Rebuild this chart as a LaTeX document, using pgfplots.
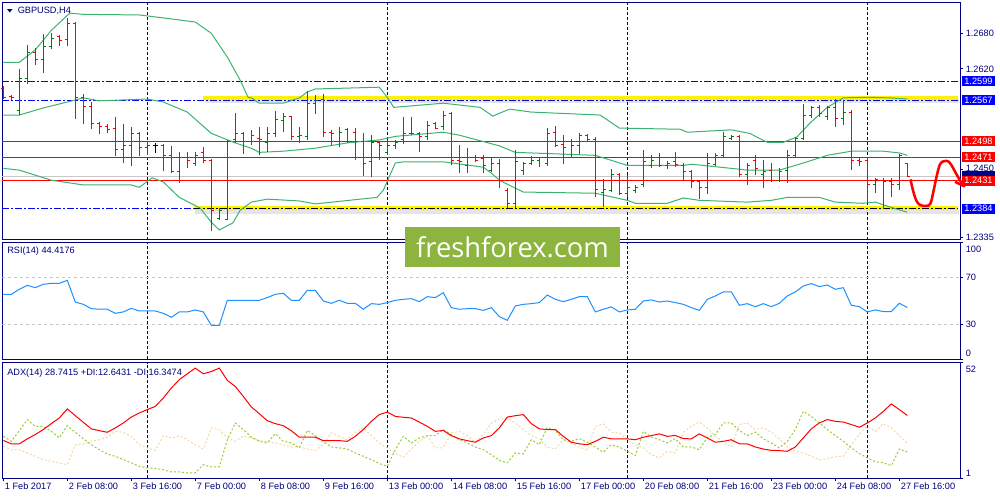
\documentclass[border=0pt]{standalone}
\usepackage{pgfplots}
\pgfplotsset{compat=1.18}
\usepackage{pgfplotstable}
\usepackage{fontspec}
\setmainfont{Liberation Sans}
\newfontfamily\wmfont{Open Sans}

\definecolor{mtnavy}{RGB}{0,0,128}
\definecolor{mtblue}{RGB}{0,0,255}
\definecolor{mtgreen}{RGB}{0,128,0}
\definecolor{mtred}{RGB}{255,0,0}
\definecolor{bbgreen}{RGB}{60,179,113}
\definecolor{rsiblue}{RGB}{30,144,255}
\definecolor{diplus}{RGB}{154,205,50}
\definecolor{diminus}{RGB}{245,215,170}
\definecolor{bidgray}{RGB}{200,200,200}
\definecolor{wmgreen}{RGB}{141,180,62}

\newcommand\mtfont{\fontsize{6.9}{8}\selectfont}

% open / close ticks of an OHLC bar
\pgfdeclareplotmark{otick}{\pgfpathmoveto{\pgfqpoint{-\pgfplotmarksize}{0pt}}\pgfpathlineto{\pgfqpoint{0pt}{0pt}}\pgfusepathqstroke}
\pgfdeclareplotmark{ctick}{\pgfpathmoveto{\pgfqpoint{0pt}{0pt}}\pgfpathlineto{\pgfqpoint{\pgfplotmarksize}{0pt}}\pgfusepathqstroke}

\tikzset{
  weekline/.style={mtnavy, line width=0.75pt, dash pattern=on 2.25pt off 1.5pt},
  mtdashdot/.style={dash pattern=on 5.25pt off 1.5pt on 1.5pt off 1.5pt},
}
\pgfplotsset{
  mtpanel/.style={scale only axis, width=718.3pt, xmin=-0.125, xmax=119.59,
    axis line style={mtnavy, line width=0.75pt}, xtick=\empty,
    ytick pos=right, tick align=outside, major tick length=2.25pt,
    tick style={mtnavy, line width=0.75pt}, yticklabels={,,,,,}},
  hilo/.style={draw=#1, line width=0.75pt, solid, mark=none, forget plot,
    quiver={u=0, v=\thisrow{h}-\thisrow{l}}},
  optick/.style={#1, draw=none, mark=otick, mark size=2pt, forget plot, mark options={draw=#1, line width=0.75pt, solid}},
  cltick/.style={#1, draw=none, mark=ctick, mark size=2pt, forget plot, mark options={draw=#1, line width=0.75pt, solid}},
}

% H4 bars: index, open, high, low, close
\pgfplotstableread{
i o h l c
2 1.2550 1.2620 1.2542 1.2603
3 1.2603 1.2660 1.2594 1.2647
5 1.2635 1.2679 1.2613 1.2657
6 1.2657 1.2680 1.2653 1.2672
8 1.2670 1.2706 1.2658 1.2697
15 1.2483 1.2527 1.2461 1.2490
16 1.2490 1.2522 1.2456 1.2511
18 1.2488 1.2498 1.2474 1.2490
22 1.2446 1.2479 1.2427 1.2471
24 1.2461 1.2479 1.2456 1.2474
27 1.2368 1.2385 1.2365 1.2381
28 1.2366 1.2500 1.2365 1.2498
29 1.2500 1.2545 1.2495 1.2511
31 1.2498 1.2517 1.2491 1.2508
33 1.2496 1.2522 1.2479 1.2510
34 1.2510 1.2549 1.2505 1.2535
35 1.2532 1.2545 1.2513 1.2540
37 1.2505 1.2522 1.2495 1.2508
38 1.2506 1.2582 1.2500 1.2562
39 1.2562 1.2576 1.2544 1.2567
42 1.2498 1.2522 1.2488 1.2513
46 1.2463 1.2508 1.2437 1.2495
48 1.2478 1.2500 1.2474 1.2491
49 1.2490 1.2500 1.2484 1.2496
50 1.2501 1.2539 1.2493 1.2510
51 1.2510 1.2539 1.2508 1.2511
53 1.2506 1.2532 1.2500 1.2525
55 1.2522 1.2549 1.2517 1.2542
58 1.2457 1.2486 1.2444 1.2471
61 1.2449 1.2471 1.2446 1.2461
64 1.2393 1.2483 1.2385 1.2463
65 1.2449 1.2463 1.2441 1.2461
66 1.2461 1.2473 1.2457 1.2466
67 1.2466 1.2471 1.2454 1.2471
68 1.2461 1.2520 1.2456 1.2511
71 1.2471 1.2501 1.2469 1.2490
72 1.2491 1.2511 1.2476 1.2508
75 1.2412 1.2434 1.2386 1.2417
76 1.2415 1.2451 1.2412 1.2442
78 1.2410 1.2441 1.2403 1.2420
79 1.2414 1.2424 1.2410 1.2420
80 1.2424 1.2483 1.2420 1.2463
81 1.2457 1.2474 1.2452 1.2466
83 1.2456 1.2464 1.2451 1.2461
88 1.2419 1.2478 1.2409 1.2461
89 1.2459 1.2478 1.2456 1.2474
90 1.2473 1.2513 1.2469 1.2505
91 1.2502 1.2508 1.2500 1.2505
93 1.2441 1.2461 1.2424 1.2456
95 1.2441 1.2466 1.2419 1.2447
97 1.2432 1.2452 1.2429 1.2447
98 1.2449 1.2483 1.2427 1.2474
99 1.2474 1.2505 1.2471 1.2503
100 1.2503 1.2560 1.2500 1.2542
101 1.2542 1.2557 1.2537 1.2554
103 1.2540 1.2557 1.2533 1.2555
105 1.2537 1.2567 1.2525 1.2547
109 1.2424 1.2436 1.2410 1.2434
112 1.2424 1.2476 1.2415 1.2474
}\upbars

\pgfplotstableread{
i o h l c
0 1.2587 1.2591 1.2569 1.2572
1 1.2574 1.2576 1.2567 1.2571
4 1.2648 1.2655 1.2626 1.2635
7 1.2674 1.2677 1.2658 1.2668
9 1.2697 1.2699 1.2535 1.2572
10 1.2572 1.2577 1.2527 1.2557
11 1.2557 1.2564 1.2518 1.2528
12 1.2528 1.2530 1.2510 1.2523
13 1.2523 1.2527 1.2511 1.2518
14 1.2520 1.2539 1.2473 1.2483
17 1.2511 1.2513 1.2473 1.2488
20 1.2490 1.2493 1.2447 1.2474
21 1.2474 1.2490 1.2444 1.2446
23 1.2471 1.2479 1.2452 1.2466
25 1.2478 1.2488 1.2461 1.2466
26 1.2466 1.2468 1.2346 1.2381
30 1.2511 1.2513 1.2476 1.2498
32 1.2503 1.2522 1.2474 1.2500
36 1.2539 1.2540 1.2500 1.2506
40 1.2569 1.2577 1.2505 1.2513
41 1.2513 1.2517 1.2491 1.2510
43 1.2517 1.2520 1.2495 1.2498
44 1.2513 1.2520 1.2466 1.2498
45 1.2498 1.2511 1.2439 1.2461
47 1.2495 1.2496 1.2466 1.2491
52 1.2511 1.2513 1.2479 1.2505
54 1.2528 1.2530 1.2518 1.2520
56 1.2545 1.2547 1.2457 1.2466
57 1.2466 1.2491 1.2444 1.2463
59 1.2471 1.2474 1.2463 1.2466
60 1.2469 1.2474 1.2444 1.2456
62 1.2461 1.2468 1.2419 1.2432
63 1.2415 1.2419 1.2385 1.2393
69 1.2513 1.2523 1.2488 1.2490
70 1.2493 1.2508 1.2459 1.2488
73 1.2508 1.2510 1.2496 1.2500
74 1.2500 1.2505 1.2403 1.2417
77 1.2442 1.2444 1.2407 1.2410
82 1.2471 1.2478 1.2454 1.2456
84 1.2463 1.2479 1.2454 1.2459
85 1.2457 1.2461 1.2432 1.2446
86 1.2446 1.2449 1.2419 1.2429
87 1.2429 1.2432 1.2400 1.2419
92 1.2505 1.2508 1.2437 1.2441
94 1.2466 1.2474 1.2441 1.2452
96 1.2449 1.2461 1.2429 1.2431
102 1.2554 1.2559 1.2539 1.2545
104 1.2554 1.2569 1.2522 1.2537
106 1.2547 1.2550 1.2449 1.2466
107 1.2466 1.2469 1.2456 1.2463
108 1.2466 1.2471 1.2393 1.2424
110 1.2432 1.2436 1.2383 1.2429
111 1.2429 1.2436 1.2403 1.2424
113 1.2461 1.2461 1.2437 1.2439
}\downbars

\pgfplotstableread{
i o h l c
19 1.2490 1.2495 1.2478 1.2490
}\dojibars

% RSI(14)
\pgfplotstableread{
i v
0 55.7
1 55.7
2 60
3 63.4
4 61.4
5 64.3
6 65.1
7 65.1
8 67.7
9 49.1
10 47.1
11 43.4
12 42.9
13 42.9
14 39.4
15 40.6
16 43.7
17 41.4
18 41.4
19 41.4
20 39.4
21 36
22 40.6
23 40.6
24 42.3
25 40.6
26 29.1
27 29.1
28 50.6
29 50.6
30 50.6
31 50.6
32 50.6
33 52.9
34 55.7
35 56.6
36 50.6
37 50.6
38 59.1
39 59.1
40 50
41 48
42 50.6
43 48
44 48
45 42.9
46 47.7
47 47.1
48 48.6
49 50.6
50 51.4
51 52
52 49.4
53 53.7
54 52.9
55 57.1
56 44.3
57 42.9
58 43.4
59 43.4
60 41.9
61 44.3
62 36.6
63 33.4
64 45.7
65 47.1
66 47.7
67 48.6
68 55.1
69 51.4
70 49.4
71 51.4
72 53.7
73 53.7
74 40.6
75 42.9
76 44.9
77 40.6
78 42.3
79 42.9
80 50
81 50.9
82 49.1
83 50
84 48.6
85 47.1
86 44.3
87 41.9
88 51.4
89 54.3
90 57.7
91 57.9
92 46.3
93 47.7
94 45.1
95 47.7
96 45.1
97 48
98 54.3
99 57.7
100 62.9
101 64.9
102 62.3
103 63.7
104 60
105 61.4
106 46.3
107 45.1
108 40.6
109 42.3
110 40.9
111 40.9
112 48
113 44.4
}\rsidata

% ADX(14), +DI, -DI
\pgfplotstableread{
i adx pdi mdi
0 17.7 19.5 15.1
1 16.2 17.3 13.6
2 16.2 22 13.6
3 18.4 26.9 12.2
4 20.3 23.9 10.7
5 22.5 23.9 9.2
6 25.1 21.7 8.5
7 27.6 18.8 7.8
8 31.6 24.2 7
9 28.6 21.3 15.8
10 25.7 18.5 16.2
11 22.8 15.8 17.3
12 22 13.6 18
13 21.3 11.7 19.1
14 23.2 10.7 21.7
15 25.4 9.2 21.3
16 28 7.8 19.5
17 29.8 6.3 15.8
18 31.3 5.6 14.4
19 32.7 5.3 13.3
20 36.4 4.8 19.8
21 40.8 3.8 18.8
22 44.5 3.8 19.8
23 47.1 3.4 18
24 49.6 3.4 15.8
25 47.1 7 13.9
26 48.1 6 23.2
27 49.6 6 22.5
28 44.2 18 18.8
29 41.5 25.4 17.3
30 37.1 22.5 19.8
31 32.5 19.2 18.8
32 29.5 17.3 17.6
33 26.4 16.6 17.3
34 25.1 20.7 16.6
35 24.2 17.3 15.8
36 22 16.6 14.8
37 19.1 14.4 14.8
38 19.1 22.1 13.9
39 19.1 19.8 13.3
40 17.6 17.3 15.8
41 17.6 14.8 21
42 17.6 14.4 19.5
43 17.3 13.9 18
44 19.5 12.2 21.3
45 22.5 10.7 23.2
46 26.1 9.2 19.8
47 29.1 7.5 16.6
48 30.2 6.3 14.4
49 28.3 13.6 11.9
50 27.9 19.5 10.3
51 27.6 16.6 13.9
52 25.8 18.8 17.3
53 23.9 19.8 19.8
54 21.7 19.8 14.4
55 22.1 22.5 14.4
56 19.8 20.3 21
57 18.4 18 21.7
58 17.6 16.6 19.8
59 16.9 14.8 16.9
60 18.8 13.6 20.3
61 19.8 11.4 25.4
62 23.2 8.9 27.2
63 28 7.8 27.6
64 28.6 12.2 25.4
65 29.1 11.7 22.5
66 25.1 18 19.8
67 22.8 15.8 18.4
68 22.5 23.5 14.8
69 22.5 22.1 13.9
70 19.5 18 18
71 16.9 17.3 16.6
72 16.2 18.5 14.8
73 15.8 16.9 13.3
74 17.3 14.8 23.9
75 19.1 12.5 25
76 18.4 15.8 21.3
77 18.4 14.8 21
78 18.4 12.9 18
79 18 11 15.8
80 19.1 21.7 14.4
81 19.8 19.2 11.4
82 20.6 18 10
83 19.5 16.6 12.9
84 19.9 18.5 12.2
85 18.5 14.8 21.3
86 18.4 14.8 23.9
87 20.6 13.6 25.8
88 18.8 19.1 23.2
89 16.9 20.3 19.5
90 17.3 25.4 16.9
91 18 25.4 14.8
92 16.2 22.1 24.7
93 16.2 19.8 25.4
94 14.8 21.4 22.5
95 13.9 18.4 23.2
96 13.3 16.6 21.3
97 13.2 14.4 18.4
98 12.9 17.3 14.8
99 14.8 22.5 12.9
100 18.8 30.5 12.2
101 22.8 28.3 10.7
102 25.4 25.4 9.2
103 26.9 22.5 9.5
104 26.1 19.8 10.7
105 25.8 17.3 10.7
106 24.7 14.4 15.8
107 23.5 11.9 20.3
108 25.4 10 23.9
109 27.6 8.3 21.7
110 30.5 7.8 25.1
111 33.8 6.6 23.2
112 31.3 13.9 19.8
113 28.7 12.6 16.4
}\adxdata

\begin{document}
\begin{tikzpicture}
\path[fill=white, use as bounding box] (0,0) rectangle (750pt,-375pt);

% ---------------- price panel ----------------
\begin{axis}[mtpanel, at={(1.725pt,-1.875pt)}, anchor=north west, height=178.1pt,
  ymin=1.23311, ymax=1.27320, clip=false,
  ytick={1.2335,1.2450,1.2620,1.2680}]
\pgfplotsinvokeforeach{18,48,78,108}{\draw[weekline] (axis cs:#1,1.23311) -- (axis cs:#1,1.27320);}
% highlighter shadows and strokes
\addplot[black, opacity=0.1, line width=2.5pt] coordinates {(25.2,1.25655) (119.4,1.25655)};
\addplot[black, opacity=0.1, line width=2.5pt] coordinates {(24.0,1.23785) (119.4,1.23785)};
\addplot[yellow, line width=3pt] coordinates {(24.96,1.25714) (119.3,1.25714)};
\addplot[yellow, line width=3pt] coordinates {(23.8,1.23845) (119.3,1.23845)};
% levels
\addplot[mtblue, line width=0.75pt, mtdashdot] coordinates {(-0.125,1.2599) (119.59,1.2599)};
\addplot[mtblue, line width=0.75pt, mtdashdot] coordinates {(-0.125,1.2567) (119.59,1.2567)};
\addplot[mtblue, line width=0.75pt, mtdashdot] coordinates {(-0.125,1.2384) (23.8,1.2384)};
\addplot[black, line width=0.75pt, mtdashdot] coordinates {(23.8,1.2384) (119.3,1.2384)};
\addplot[bidgray, line width=0.75pt] coordinates {(-0.125,1.2439) (119.59,1.2439)};
\addplot[mtred, line width=0.75pt] coordinates {(-0.125,1.2498) (119.59,1.2498)};
\addplot[mtred, line width=0.75pt] coordinates {(-0.125,1.2471) (119.59,1.2471)};
\addplot[mtred, line width=0.75pt] coordinates {(-0.125,1.2431) (119.59,1.2431)};
% Bollinger bands
\addplot[bbgreen, line width=0.75pt] coordinates {(0,1.2631)(2,1.2631)(4,1.2652)(6,1.2685)(8.3,1.2714)(10,1.2712)(17,1.2711)(20,1.2706)(24,1.2699)(26,1.2680)(28,1.2640)(29.6,1.2601)(30.6,1.2572)(31,1.2571)(32,1.2562)(35,1.2562)(37,1.2571)(38,1.2581)(39,1.2586)(47,1.2589)(48,1.2572)(48.8,1.2555)(55,1.2562)(59.6,1.2555)(61.2,1.2540)(62,1.2545)(63.3,1.2552)(66,1.2547)(74.6,1.2542)(77,1.2520)(84.6,1.2518)(85.5,1.2513)(91,1.2517)(93.3,1.2511)(95.5,1.2496)(97.5,1.2496)(99.2,1.2505)(100.8,1.2528)(103,1.2555)(105,1.2571)(108,1.2572)(110.8,1.2571)(113,1.2569)};
\addplot[bbgreen, line width=0.75pt] coordinates {(0,1.2542)(2,1.2542)(5,1.2554)(8,1.2564)(10,1.2571)(12,1.2566)(18,1.2569)(20,1.2564)(23,1.2547)(26,1.2511)(29,1.2495)(31,1.2486)(32,1.2479)(35,1.2481)(39,1.2486)(43,1.2495)(47,1.2500)(49,1.2506)(55,1.2513)(57,1.2508)(62,1.2490)(64,1.2479)(74,1.2474)(78,1.2457)(85,1.2457)(86,1.2459)(91,1.2452)(93,1.2449)(97,1.2449)(100,1.2461)(103,1.2474)(106,1.2481)(110,1.2481)(112,1.2478)(113,1.2474)};
\addplot[bbgreen, line width=0.75pt] coordinates {(0,1.2452)(2,1.2449)(6,1.2432)(10,1.2424)(16,1.2424)(17,1.2420)(18.6,1.2436)(20,1.2429)(22,1.2403)(24.6,1.2385)(26,1.2361)(27,1.2348)(28.7,1.2360)(29.6,1.2381)(31,1.2395)(33,1.2400)(37,1.2397)(39,1.2392)(46.7,1.2403)(47.5,1.2415)(49,1.2461)(50,1.2463)(55,1.2463)(60,1.2454)(61,1.2444)(62,1.2432)(65,1.2412)(74,1.2410)(78,1.2398)(79,1.2393)(83,1.2393)(85,1.2402)(87,1.2398)(93,1.2395)(96,1.2398)(98,1.2403)(102,1.2403)(104,1.2395)(107.5,1.2393)(109,1.2395)(111,1.2386)(113,1.2378)};
% OHLC bars
\addplot[hilo=mtgreen] table[x=i, y=l] {\upbars};
\addplot[optick=mtgreen] table[x=i, y=o] {\upbars};
\addplot[cltick=mtgreen] table[x=i, y=c] {\upbars};
\addplot[hilo=mtred] table[x=i, y=l] {\downbars};
\addplot[optick=mtred] table[x=i, y=o] {\downbars};
\addplot[cltick=mtred] table[x=i, y=c] {\downbars};
\addplot[hilo=black] table[x=i, y=l] {\dojibars};
\addplot[optick=black] table[x=i, y=o] {\dojibars};
\addplot[cltick=black] table[x=i, y=c] {\dojibars};
% hand-drawn forecast
\addplot[mtred, line width=1.9pt, smooth, tension=0.6] coordinates {(113.4,1.24333)(113.7,1.24153)(114.1,1.23984)(114.6,1.23900)(115.4,1.23888)(115.9,1.23928)(116.3,1.24153)(116.7,1.24406)(117.1,1.24592)(117.6,1.24642)(118.2,1.24631)(118.75,1.24519)(119.2,1.24406)(119.7,1.24293)(120.09,1.24220)};
\addplot[mtred, line width=1.9pt, line join=round] coordinates {(120.34,1.24479)(120.09,1.24220)(118.96,1.24293)};
\end{axis}

% ---------------- RSI panel ----------------
\begin{axis}[mtpanel, at={(1.725pt,-182.0pt)}, anchor=north west, height=87.45pt,
  ymin=0, ymax=100, ytick={0,30,70,100}]
\pgfplotsinvokeforeach{18,48,78,108}{\draw[weekline] (axis cs:#1,0) -- (axis cs:#1,100);}
\addplot[bidgray, line width=0.75pt, dash pattern=on 2.25pt off 2.25pt] coordinates {(-0.125,70) (119.59,70)};
\addplot[bidgray, line width=0.75pt, dash pattern=on 2.25pt off 2.25pt] coordinates {(-0.125,30) (119.59,30)};
\addplot[rsiblue, line width=0.75pt] table[x=i, y=v] {\rsidata};
\end{axis}

% ---------------- ADX panel ----------------
\begin{axis}[mtpanel, at={(1.725pt,-272.0pt)}, anchor=north west, height=86.7pt,
  ymin=1, ymax=52, ytick={1,52},
  xtick={0,8,...,112}, xtick pos=left,
  xticklabels={1 Feb 2017,2 Feb 08:00,3 Feb 16:00,7 Feb 00:00,8 Feb 08:00,9 Feb 16:00,13 Feb 00:00,14 Feb 08:00,15 Feb 16:00,17 Feb 00:00,20 Feb 08:00,21 Feb 16:00,23 Feb 00:00,24 Feb 08:00,27 Feb 16:00},
  xticklabel style={font=\mtfont, text=mtnavy, anchor=north west, inner sep=0pt, xshift=1pt, yshift=-1.3pt}]
\pgfplotsinvokeforeach{18,48,78,108}{\draw[weekline] (axis cs:#1,1) -- (axis cs:#1,52);}
\addplot[diminus, line width=0.75pt, dash pattern=on 1.5pt off 1.5pt] table[x=i, y=mdi] {\adxdata};
\addplot[diplus, line width=0.75pt, dash pattern=on 1.5pt off 1.5pt] table[x=i, y=pdi] {\adxdata};
\addplot[mtred, line width=0.75pt] table[x=i, y=adx] {\adxdata};
\end{axis}

% ---------------- labels (pixel grid) ----------------
\begin{scope}[x=0.75pt, y=-0.75pt, font=\mtfont]
\fill[mtnavy] (7,9) -- (12.5,9) -- (9.75,12.5) -- cycle;
\node[anchor=west, inner sep=0pt, text=mtnavy] at (17.5,10.5) {GBPUSD,H4};
\node[anchor=west, inner sep=0pt, text=mtnavy] at (7,251.5) {RSI(14) 44.4176};
\node[anchor=west, inner sep=0pt, text=mtnavy] at (7,372.7) {ADX(14) 28.7415 +DI:12.6431 -DI:16.3474};
% price scale
\foreach \yy/\tt in {33.3/1.2680, 68.9/1.2620, 168/1.2450, 237.7/1.2335}
  \node[anchor=west, inner sep=0pt, text=mtnavy] at (965.5,\yy) {\tt};
\fill[mtnavy] (961.5,171) rectangle (995,180.5);
\foreach \yy/\tt in {81.3/1.2599, 100.3/1.2567, 208.7/1.2384}
  \node[fill=mtblue, text=white, minimum width=25pt, minimum height=7.5pt, inner sep=0pt, anchor=west] at (961.5,\yy) {\tt};
\foreach \yy/\tt in {141.1/1.2498, 157.1/1.2471, 180.8/1.2431}
  \node[fill=mtred, text=white, minimum width=25pt, minimum height=7.5pt, inner sep=0pt, anchor=west] at (961.5,\yy) {\tt};
% indicator scales
\foreach \yy/\tt in {249/100, 277.7/70, 324.3/30, 353/0, 369/52, 473/1}
  \node[anchor=west, inner sep=0pt, text=mtnavy] at (965.5,\yy) {\tt};
% watermark
\fill[wmgreen] (405,227) rectangle (620,267);
\node[anchor=base, inner sep=0pt, text=white, font={\wmfont\fontsize{20.5}{24}\selectfont}] at (512.5,257.5) {freshforex.com};
\end{scope}
\end{tikzpicture}
\end{document}
